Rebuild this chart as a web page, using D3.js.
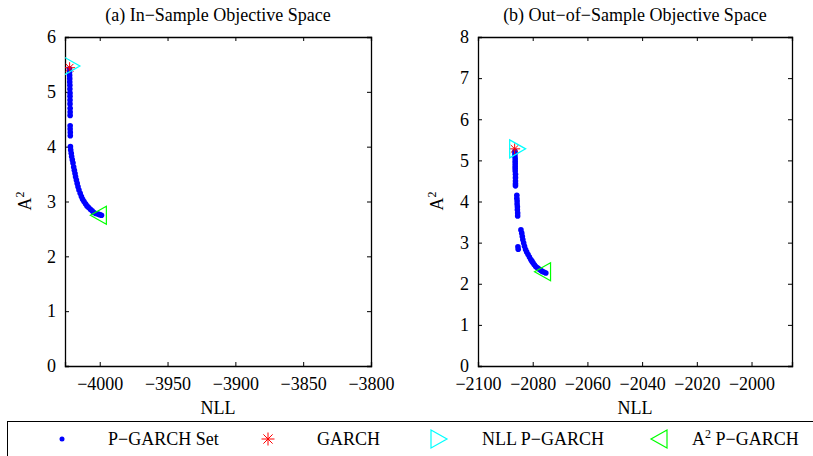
<!DOCTYPE html>
<html>
<head>
<meta charset="utf-8">
<script src="https://cdn.jsdelivr.net/npm/d3@7"></script>
<style>
  body { margin: 0; background: #fff; }
  svg { display: block; font-family: "Liberation Serif", "Times New Roman", serif; }
</style>
</head>
<body>
<svg id="chart" width="813" height="456"></svg>
<script>
// In-sample P-GARCH set (NLL, A^2)
const inSampleNLL = [-4022.3, -4022.2, -4022.2, -4022.1, -4022.1, -4022.0, -4022.0, -4021.9, -4021.9, -4021.9,
  -4021.9, -4021.8, -4021.8, -4021.8, -4021.8, -4021.8, -4021.7, -4021.7, -4021.6, -4021.4,
  -4021.0, -4020.7, -4020.2, -4019.7, -4019.2, -4018.7, -4018.2, -4017.8, -4017.2, -4016.6,
  -4016.0, -4015.3, -4014.4, -4013.5, -4012.6, -4011.6, -4010.5, -4009.4, -4008.2, -4006.9,
  -4005.6, -4004.4, -4002.8, -4001.2, -4000.0, -3998.7];
const inSampleA2 = [5.42, 5.36, 5.30, 5.24, 5.18, 5.12, 5.05, 4.98, 4.92, 4.85,
  4.78, 4.70, 4.63, 4.57, 4.38, 4.32, 4.26, 4.20, 4.00, 3.94,
  3.88, 3.82, 3.76, 3.70, 3.63, 3.57, 3.51, 3.45, 3.39, 3.33,
  3.27, 3.21, 3.15, 3.09, 3.04, 3.00, 2.96, 2.92, 2.89, 2.86,
  2.83, 2.80, 2.78, 2.77, 2.76, 2.75];

// Out-of-sample P-GARCH set
const outSampleNLL = [-2086.5, -2086.5, -2086.5, -2086.4, -2086.4, -2086.4, -2086.4, -2086.4, -2086.4, -2086.3,
  -2086.3, -2086.3, -2086.3, -2086.3, -2085.8, -2085.8, -2085.7, -2085.7, -2085.6, -2085.6,
  -2085.5, -2085.5, -2085.4, -2085.3, -2084.3, -2084.0, -2083.8, -2083.6, -2083.3, -2083.0,
  -2082.6, -2082.2, -2081.7, -2081.2, -2080.7, -2080.3, -2079.9, -2079.4, -2078.9, -2078.3,
  -2077.7, -2077.1, -2076.5, -2075.8, -2075.2];
const outSampleA2 = [5.22, 5.16, 5.10, 5.04, 4.98, 4.92, 4.86, 4.80, 4.74, 4.66,
  4.58, 4.50, 4.43, 4.38, 4.15, 4.08, 4.01, 3.94, 3.87, 3.80,
  3.72, 3.65, 2.90, 2.84, 3.31, 3.23, 3.15, 3.07, 2.99, 2.91,
  2.83, 2.77, 2.71, 2.65, 2.59, 2.55, 2.51, 2.46, 2.42, 2.39,
  2.36, 2.33, 2.30, 2.28, 2.26];

// single models: [NLL, A^2]
const inGarch = [-4022.2, 5.44];
const inNllPGarch = [-4020.5, 5.47];
const inA2PGarch = [-4001.0, 2.75];
const outGarch = [-2086.6, 5.28];
const outNllPGarch = [-2085.5, 5.28];
const outA2PGarch = [-2076.4, 2.29];

const inXTicks = [-4000, -3950, -3900, -3850, -3800];
const inYTicks = [0, 1, 2, 3, 4, 5, 6];
const outXTicks = [-2100, -2080, -2060, -2040, -2020, -2000];
const outYTicks = [0, 1, 2, 3, 4, 5, 6, 7, 8];

const legendLabels = ["P\u2212GARCH Set", "GARCH", "NLL P\u2212GARCH", "A2 P\u2212GARCH"];

const svg = d3.select("#chart");
const fontSize = 18;
const fmt = d => String(d).replace("-", "\u2212");

function star(g, x, y, r) {
  const s = g.append("g").attr("transform", `translate(${x},${y})`)
    .attr("stroke", "#ff0000").attr("stroke-width", 1);
  [0, 45, 90, 135].forEach(a => {
    const rad = a * Math.PI / 180;
    s.append("line")
      .attr("x1", -r * Math.cos(rad)).attr("y1", -r * Math.sin(rad))
      .attr("x2", r * Math.cos(rad)).attr("y2", r * Math.sin(rad));
  });
}

function triangle(g, x, y, dir, color) {
  const w = 8, h = 9;
  const pts = dir === "right"
    ? [[-w, -h], [w, 0], [-w, h]]
    : [[w, -h], [-w, 0], [w, h]];
  g.append("path")
    .attr("d", "M" + pts.map(p => [x + p[0], y + p[1]].join(",")).join("L") + "Z")
    .attr("fill", "none").attr("stroke", color).attr("stroke-width", 1.2);
}

function drawPanel(opt) {
  const x = d3.scaleLinear().domain(opt.xDomain).range([opt.left, opt.right]);
  const y = d3.scaleLinear().domain(opt.yDomain).range([opt.bottom, opt.top]);
  const g = svg.append("g");

  const clip = "clip" + opt.id;
  g.append("clipPath").attr("id", clip).append("rect")
    .attr("x", opt.left).attr("y", opt.top)
    .attr("width", opt.right - opt.left).attr("height", opt.bottom - opt.top);

  // axes with inward ticks, mirrored on top/right
  const tick = 4;
  g.append("g").attr("transform", `translate(0,${opt.bottom})`)
    .call(d3.axisBottom(x).tickValues(opt.xTicks).tickSize(-tick).tickPadding(11).tickFormat(fmt));
  g.append("g").attr("transform", `translate(0,${opt.top})`)
    .call(d3.axisTop(x).tickValues(opt.xTicks).tickSize(-tick).tickFormat(""));
  g.append("g").attr("transform", `translate(${opt.left},0)`)
    .call(d3.axisLeft(y).tickValues(opt.yTicks).tickSize(-tick).tickPadding(9).tickFormat(fmt));
  g.append("g").attr("transform", `translate(${opt.right},0)`)
    .call(d3.axisRight(y).tickValues(opt.yTicks).tickSize(-tick).tickFormat(""));
  g.selectAll(".domain").attr("stroke", "#000").attr("stroke-width", 1.3);
  g.selectAll(".tick line").attr("stroke", "#000");
  g.selectAll(".tick text").attr("font-size", fontSize).attr("font-family", "Liberation Serif").attr("fill", "#000");

  const plot = g.append("g").attr("clip-path", `url(#${clip})`);
  plot.selectAll("circle").data(d3.zip(opt.nll, opt.a2)).join("circle")
    .attr("cx", d => x(d[0])).attr("cy", d => y(d[1]))
    .attr("r", 2.8).attr("fill", "#0000ff");

  star(plot, x(opt.garch[0]), y(opt.garch[1]), 5.5);
  triangle(plot, x(opt.nllP[0]), y(opt.nllP[1]), "right", "#00ffff");
  triangle(plot, x(opt.a2P[0]), y(opt.a2P[1]), "left", "#00ff00");

  g.append("text").attr("x", (opt.left + opt.right) / 2).attr("y", 21)
    .attr("text-anchor", "middle").attr("font-size", fontSize).text(opt.title);
  g.append("text").attr("x", (opt.left + opt.right) / 2).attr("y", 414)
    .attr("text-anchor", "middle").attr("font-size", fontSize).text("NLL");
  const yl = g.append("text")
    .attr("transform", `translate(${opt.yLabelX},201) rotate(-90)`)
    .attr("text-anchor", "middle").attr("font-size", fontSize);
  yl.append("tspan").text("A");
  yl.append("tspan").attr("font-size", 12).attr("dy", -7).text("2");
}

drawPanel({
  id: "a", title: "(a) In\u2212Sample Objective Space",
  left: 65, right: 371, top: 37, bottom: 366,
  xDomain: [-4025.6, -3800], yDomain: [0, 6],
  xTicks: inXTicks, yTicks: inYTicks,
  nll: inSampleNLL, a2: inSampleA2,
  garch: inGarch, nllP: inNllPGarch, a2P: inA2PGarch,
  yLabelX: 31
});

drawPanel({
  id: "b", title: "(b) Out\u2212of\u2212Sample Objective Space",
  left: 478, right: 792, top: 37, bottom: 366,
  xDomain: [-2100, -1985.2], yDomain: [0, 8],
  xTicks: outXTicks, yTicks: outYTicks,
  nll: outSampleNLL, a2: outSampleA2,
  garch: outGarch, nllP: outNllPGarch, a2P: outA2PGarch,
  yLabelX: 443
});

// legend
const lg = svg.append("g");
lg.append("rect").attr("x", 7.5).attr("y", 421.5).attr("width", 830).attr("height", 60)
  .attr("fill", "#fff").attr("stroke", "#000").attr("stroke-width", 1);
const ly = 439;
lg.append("circle").attr("cx", 62).attr("cy", ly).attr("r", 2.5).attr("fill", "#0000ff");
star(lg, 268, ly, 6.5);
triangle(lg, 439, ly, "right", "#00ffff");
triangle(lg, 659, ly, "left", "#00ff00");
const textX = [108, 317, 482, 692];
legendLabels.forEach((t, i) => {
  const tx = lg.append("text").attr("x", textX[i]).attr("y", ly + 6).attr("font-size", fontSize);
  if (i === 3) {
    tx.append("tspan").text("A");
    tx.append("tspan").attr("font-size", 12).attr("dy", -7).text("2");
    tx.append("tspan").attr("dy", 7).text(" P\u2212GARCH");
  } else {
    tx.text(t);
  }
});
</script>
</body>
</html>
